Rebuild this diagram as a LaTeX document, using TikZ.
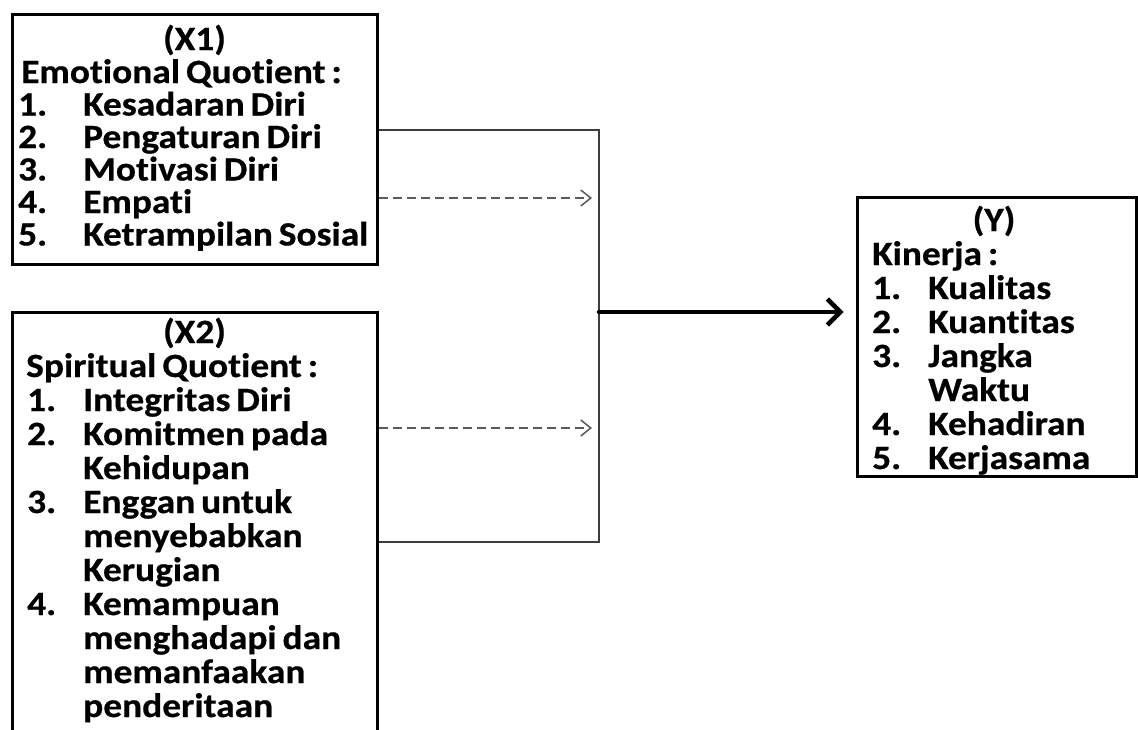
\documentclass[tikz,border=0pt]{standalone}
\usepackage{fontspec}
\setmainfont{Carlito}[Ligatures=NoCommon,BoldFeatures={FakeStretch=1.1,FakeBold=0.6,WordSpace=0.7}]
\usetikzlibrary{arrows.meta}
\definecolor{connc}{HTML}{3C3C3C}
\definecolor{dashc}{HTML}{5A5A5A}
\begin{document}
\begin{tikzpicture}[x=1pt,y=-1pt,
  box/.style={draw=black,line width=3pt,inner sep=0pt,fill=none},
  txt/.style={inner sep=0pt,anchor=base west,font=\fontsize{34}{34}\selectfont\bfseries},
  head/.style={inner sep=0pt,anchor=base,font=\fontsize{34}{34}\selectfont\bfseries},
  conn/.style={draw=connc,line width=1.3pt},
  dasharrow/.style={draw=dashc,line width=1.3pt,dash pattern=on 9pt off 5pt,-{Straight Barb[length=10pt,width=16pt,line width=1.5pt]}},
  mainarrow/.style={draw=black,line width=4.5pt,line cap=round,-{Straight Barb[length=13pt,width=26pt,line width=4.5pt]}}
]
\useasboundingbox (0,0) rectangle (1138,729);
\fill[white] (0,0) rectangle (1138,729);
\clip (0,0) rectangle (1138,729);

% boxes
\node (x1) [box,minimum width=365pt,minimum height=250pt] at (194.5,139) {};
\node (x2) [box,minimum width=365pt,minimum height=460pt] at (194.5,542) {};
\node (y) [box,minimum width=279pt,minimum height=279pt] at (996.5,336.5) {};

% X1 text
\node (x1h) [head] at (194.5,50) {(X1)};
\node (x1s) [txt] at (21,83) {Emotional Quotient :};
\node (x1n1) [txt] at (18,115.5) {1.};
\node (x1i1) [txt] at (83,115.5) {Kesadaran Diri};
\node (x1n2) [txt] at (18,148) {2.};
\node (x1i2) [txt] at (83,148) {Pengaturan Diri};
\node (x1n3) [txt] at (18,180.5) {3.};
\node (x1i3) [txt] at (83,180.5) {Motivasi Diri};
\node (x1n4) [txt] at (18,213) {4.};
\node (x1i4) [txt] at (83,213) {Empati};
\node (x1n5) [txt] at (18,245.5) {5.};
\node (x1i5) [txt] at (83,245.5) {Ketrampilan Sosial};

% X2 text
\node (x2h) [head] at (194.5,343) {(X2)};
\node (x2s) [txt] at (26,377) {Spiritual Quotient :};
\node (x2n1) [txt] at (27,411) {1.};
\node (x2i1) [txt] at (83,411) {Integritas Diri};
\node (x2n2) [txt] at (27,445) {2.};
\node (x2i2) [txt] at (83,445) {Komitmen pada};
\node (x2i2b) [txt] at (83,479) {Kehidupan};
\node (x2n3) [txt] at (27,513) {3.};
\node (x2i3) [txt] at (83,513) {Enggan untuk};
\node (x2i3b) [txt] at (83,547) {menyebabkan};
\node (x2i3c) [txt] at (83,581) {Kerugian};
\node (x2n4) [txt] at (27,615) {4.};
\node (x2i4) [txt] at (83,615) {Kemampuan};
\node (x2i4b) [txt] at (83,649) {menghadapi dan};
\node (x2i4c) [txt] at (83,683) {memanfaakan};
\node (x2i4d) [txt] at (83,717) {penderitaan};

% Y text
\node (yh) [head] at (994,231) {(Y)};
\node (ys) [txt] at (872,265) {Kinerja :};
\node (yn1) [txt] at (872,299) {1.};
\node (yi1) [txt] at (928,299) {Kualitas};
\node (yn2) [txt] at (872,333) {2.};
\node (yi2) [txt] at (928,333) {Kuantitas};
\node (yn3) [txt] at (872,367) {3.};
\node (yi3) [txt] at (928,367) {Jangka};
\node (yi3b) [txt] at (928,401) {Waktu};
\node (yn4) [txt] at (872,435) {4.};
\node (yi4) [txt] at (928,435) {Kehadiran};
\node (yn5) [txt] at (872,469) {5.};
\node (yi5) [txt] at (928,469) {Kerjasama};

% connector coordinates
\coordinate (p1) at (x1.east |- 0,130);
\coordinate (p2) at (599,130);
\coordinate (p3) at (599,542);
\coordinate (p4) at (x2.east |- 0,542);
\coordinate (d1s) at (x1.east |- 0,198);
\coordinate (d1e) at (592,198);
\coordinate (d2s) at (x2.east |- 0,428);
\coordinate (d2e) at (592,428);
\coordinate (ms) at (p2 |- 0,312);
\coordinate (me) at (y.west |- 0,312);

\draw[conn] (p1) -- (p2) -- (p3) -- (p4);
\draw[dasharrow] (d1s) -- (d1e);
\draw[dasharrow] (d2s) -- (d2e);
\draw[mainarrow] (ms) -- ([xshift=-12pt]me);
\end{tikzpicture}
\end{document}
